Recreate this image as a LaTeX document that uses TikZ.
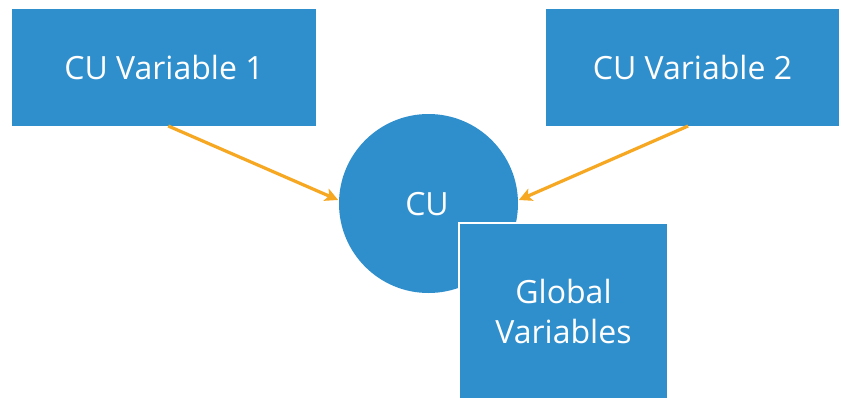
\documentclass[tikz,border=0pt]{standalone}
\usepackage{fontspec}
\setmainfont{Open Sans}
\usetikzlibrary{arrows.meta,calc}
\definecolor{boxblue}{HTML}{2F8FCD}
\definecolor{linkorange}{HTML}{F7A823}
\tikzset{
  box/.style={rectangle, fill=boxblue, text=white, inner sep=0pt, outer sep=0pt,
    font=\fontsize{32}{40}\selectfont, align=center},
  hub/.style={circle, fill=boxblue, text=white, inner sep=0pt, outer sep=0pt,
    minimum size=179pt},
  link/.style={draw=linkorange, line width=3.2pt,
    -{Stealth[length=13pt,width=13pt,inset=3pt]}, shorten >=1pt}
}
\begin{document}
\begin{tikzpicture}[x=1pt,y=-1pt]
  \useasboundingbox (0,0) rectangle (841,397);
  \fill[white] (0,0) rectangle (841,397);
  % top boxes
  \node[box, minimum width=304pt, minimum height=117pt] (v1) at (164,67.5) {CU Variable 1};
  \node[box, minimum width=293pt, minimum height=117pt] (v2) at (692.5,67.5) {CU Variable 2};
  % central circle with its label
  \node[hub] (cu) at (428.5,203.5) {};
  \node[text=white, font=\fontsize{32}{40}\selectfont] (cul) at (427,204) {CU};
  % box in front of the circle
  \node[box, draw=white, line width=1.2pt, minimum width=209pt, minimum height=176pt] (gv) at (563.5,311) {Global\\Variables};
  % connectors
  \coordinate (s1) at ($(v1.south west)!0.514!(v1.south east)$);
  \coordinate (s2) at ($(v2.south west)!0.485!(v2.south east)$);
  \draw[link] (s1) -- (cu.178);
  \draw[link] (s2) -- (cu.2);
\end{tikzpicture}
\end{document}
